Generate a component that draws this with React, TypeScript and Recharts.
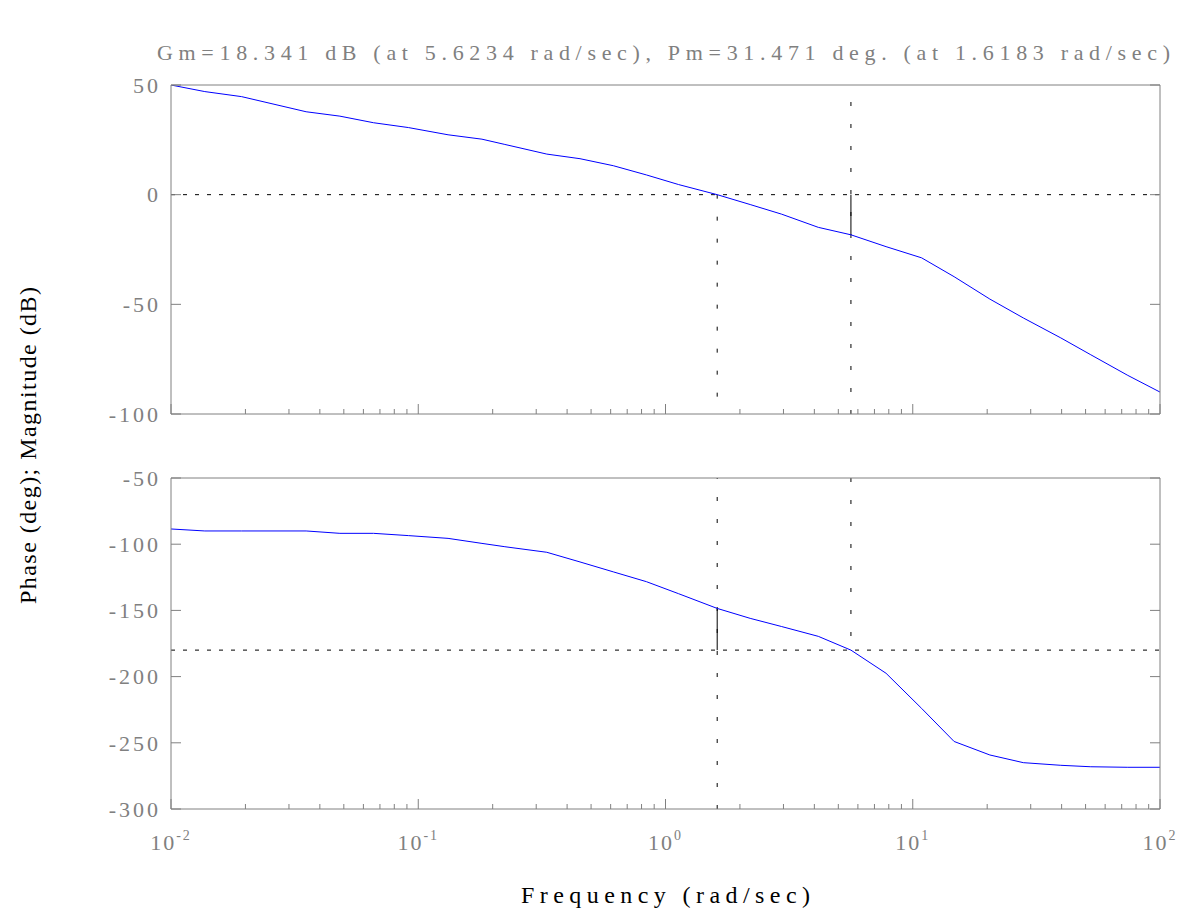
import React from 'react'
import { LineChart, Line, XAxis, YAxis, ReferenceLine } from 'recharts'

if (typeof document !== 'undefined') document.body.style.margin = '0'

// frequency grid (rad/sec) and the two responses
const freq = [
  0.01, 0.0137, 0.0193, 0.0352, 0.0482, 0.0659, 0.0912, 0.132, 0.181, 0.224, 0.331, 0.451, 0.615, 0.837,
  1.13, 1.6183, 2.2, 2.95, 4.15, 5.6234, 7.8, 10.86, 14.7, 20.5, 28.0, 39.7, 52.5, 74.1, 100,
]
const magnitude = [
  50, 47.0, 44.7, 37.8, 35.8, 32.8, 30.6, 27.3, 25.3, 22.9, 18.5, 16.4, 13.2, 9.0, 4.6, 0, -4.5, -8.9,
  -14.9, -18.3, -23.7, -28.8, -37.4, -47.6, -56.2, -65.3, -73.0, -82.4, -90.0,
]
const phase = [
  -88.5, -90, -90, -90, -91.8, -91.8, -93.5, -95.6, -99.4, -101.9, -106.1, -113.4, -120.9, -128.3, -137.4,
  -148.5, -156.0, -162.2, -169.6, -180, -197.5, -224, -249, -259.2, -265.0, -267, -268.1, -268.5, -268.5,
]

const magTicks = [-100, -50, 0, 50]
const phaseTicks = [-300, -250, -200, -150, -100, -50]
const decades = [0.01, 0.1, 1, 10, 100]
const decadeExp = ['-2', '-1', '0', '1', '2']
const minorMult = [2, 3, 4, 5, 6, 7, 8, 9]

const gainMargin = 18.341
const wcg = 5.6234
const phaseMargin = 31.471
const wcp = 1.6183

const title = 'Gm=18.341 dB (at 5.6234 rad/sec), Pm=31.471 deg. (at 1.6183 rad/sec)'

const data = freq.map((f, i) => ({ f, mag: magnitude[i], phase: phase[i] }))
const xTicks = [
  ...decades,
  ...decades.slice(0, -1).flatMap((d) => minorMult.map((m) => +(d * m).toPrecision(4))),
].sort((a, b) => a - b)

const AXIS = '#808080'
const FONT = '"Liberation Serif", "DejaVu Serif", serif'
const HDASH = '4 8'
const VDASH = '4 18'

const isDecade = (v: number) => Math.abs(Math.log10(v) - Math.round(Math.log10(v))) < 1e-6

function XTick(props: any) {
  const { x, y, payload, side, labels } = props
  const v = payload.value
  const major = isDecade(v)
  const len = major ? 10 : 5
  const dir = side === 'top' ? 1 : -1
  const idx = decades.findIndex((d) => Math.abs(d - v) < 1e-9)
  return (
    <g>
      <line x1={x} x2={x} y1={y} y2={y + dir * len} stroke={AXIS} />
      {labels && major && idx >= 0 && (
        <text x={x} y={y + 41} textAnchor="middle" fill={AXIS} fontFamily={FONT} fontSize={22} letterSpacing={2}>
          10
          <tspan dy={-10} fontSize={14}>
            {decadeExp[idx]}
          </tspan>
        </text>
      )}
    </g>
  )
}

function YTick(props: any) {
  const { x, y, payload, side } = props
  const dir = side === 'right' ? -1 : 1
  return (
    <g>
      <line x1={x} x2={x + dir * 10} y1={y} y2={y} stroke={AXIS} />
      {side === 'left' && (
        <text x={x - 10} y={y} dy="0.35em" textAnchor="end" fill={AXIS} fontFamily={FONT} fontSize={22} letterSpacing={3}>
          {payload.value}
        </text>
      )}
    </g>
  )
}

interface Props {
  dataKey: 'mag' | 'phase'
  domain: [number, number]
  ticks: number[]
  height: number
  margin: { top: number; right: number; bottom: number; left: number }
  showXLabels: boolean
  children?: React.ReactNode
}

// axes of size 1 keep the plot box where the margins put it (size 0 would not be drawn)
function Panel({ dataKey, domain, ticks, height, margin, showXLabels, children }: Props) {
  return (
    <LineChart width={1181} height={height} data={data} margin={margin}>
      <XAxis
        xAxisId="b"
        dataKey="f"
        type="number"
        scale="log"
        domain={[0.01, 100]}
        allowDataOverflow
        ticks={xTicks}
        interval={0}
        height={1}
        tickSize={0}
        tickMargin={0}
        tickLine={false}
        axisLine={{ stroke: AXIS }}
        tick={<XTick side="bottom" labels={showXLabels} />}
      />
      <XAxis
        xAxisId="t"
        orientation="top"
        type="number"
        scale="log"
        domain={[0.01, 100]}
        allowDataOverflow
        ticks={xTicks}
        interval={0}
        height={1}
        tickSize={0}
        tickMargin={0}
        tickLine={false}
        axisLine={{ stroke: AXIS }}
        tick={<XTick side="top" labels={false} />}
      />
      <YAxis
        yAxisId="l"
        type="number"
        domain={domain}
        allowDataOverflow
        ticks={ticks}
        interval={0}
        width={1}
        tickSize={0}
        tickMargin={0}
        tickLine={false}
        axisLine={{ stroke: AXIS }}
        tick={<YTick side="left" />}
      />
      <YAxis
        yAxisId="r"
        orientation="right"
        type="number"
        domain={domain}
        allowDataOverflow
        ticks={ticks}
        interval={0}
        width={1}
        tickSize={0}
        tickMargin={0}
        tickLine={false}
        axisLine={{ stroke: AXIS }}
        tick={<YTick side="right" />}
      />
      {children}
      <Line
        xAxisId="b"
        yAxisId="l"
        dataKey={dataKey}
        stroke="#0000ff"
        strokeWidth={1}
        dot={false}
        activeDot={false}
        isAnimationActive={false}
      />
    </LineChart>
  )
}

export default function App() {
  return (
    <div style={{ position: 'relative', width: 1181, height: 922, background: '#fff' }}>
      <div style={{ position: 'absolute', left: 0, top: 0 }}>
        <Panel
          dataKey="mag"
          domain={[-100, 50]}
          ticks={magTicks}
          height={430}
          margin={{ top: 84, right: 20, bottom: 15, left: 170 }}
          showXLabels={false}
        >
          <ReferenceLine xAxisId="b" yAxisId="l" y={0} stroke="#000" strokeDasharray={HDASH} />
          <ReferenceLine
            xAxisId="b"
            yAxisId="l"
            segment={[{ x: wcp, y: 0 }, { x: wcp, y: -100 }]}
            stroke="#000"
            strokeDasharray={VDASH}
          />
          <ReferenceLine xAxisId="b" yAxisId="l" x={wcg} stroke="#000" strokeDasharray={VDASH} />
          <ReferenceLine
            xAxisId="b"
            yAxisId="l"
            segment={[{ x: wcg, y: 0 }, { x: wcg, y: -gainMargin }]}
            stroke="#000"
          />
        </Panel>
      </div>
      <div style={{ position: 'absolute', left: 0, top: 440 }}>
        <Panel
          dataKey="phase"
          domain={[-300, -50]}
          ticks={phaseTicks}
          height={482}
          margin={{ top: 37, right: 20, bottom: 112, left: 170 }}
          showXLabels
        >
          <ReferenceLine xAxisId="b" yAxisId="l" y={-180} stroke="#000" strokeDasharray={HDASH} />
          <ReferenceLine xAxisId="b" yAxisId="l" x={wcp} stroke="#000" strokeDasharray={VDASH} />
          <ReferenceLine
            xAxisId="b"
            yAxisId="l"
            segment={[{ x: wcg, y: -50 }, { x: wcg, y: -180 }]}
            stroke="#000"
            strokeDasharray={VDASH}
          />
          <ReferenceLine
            xAxisId="b"
            yAxisId="l"
            segment={[{ x: wcp, y: -180 }, { x: wcp, y: -180 + phaseMargin }]}
            stroke="#000"
          />
        </Panel>
      </div>
      <svg width={1181} height={922} style={{ position: 'absolute', left: 0, top: 0, pointerEvents: 'none' }}>
        <text x={157} y={60} textLength={1013} lengthAdjust="spacing" fill={AXIS} fontFamily={FONT} fontSize={22}>
          {title}
        </text>
        <text x={521} y={903} textLength={289} lengthAdjust="spacing" fill="#000" fontFamily={FONT} fontSize={24}>
          Frequency (rad/sec)
        </text>
        <text
          transform="translate(36,446) rotate(-90)"
          x={-158}
          y={0}
          textLength={317}
          lengthAdjust="spacing"
          fill="#000"
          fontFamily={FONT}
          fontSize={24}
        >
          Phase (deg); Magnitude (dB)
        </text>
      </svg>
    </div>
  )
}
